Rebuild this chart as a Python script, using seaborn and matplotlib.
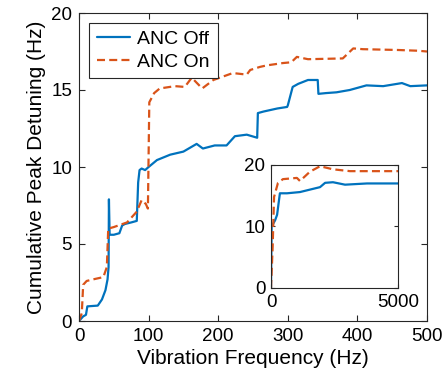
import matplotlib
matplotlib.use("Agg")
import matplotlib.pyplot as plt
import seaborn as sns

# ANC Off (blue) - main axes
off_freq = [0, 6, 10, 12, 27, 33, 38, 41, 42.5, 43, 44, 50, 58, 62, 66, 75, 83, 85, 87, 90, 95, 100,
            112, 131, 150, 169, 178, 195, 212, 224, 241, 256, 257, 265, 285, 299, 300, 307, 315,
            329, 343, 344, 355, 370, 389, 413, 437, 464, 476, 500]
off_val = [0, 0.3, 0.4, 0.95, 1.0, 1.4, 2.0, 2.7, 3.5, 7.9, 5.6, 5.6, 5.7, 6.2, 6.3, 6.4, 6.5, 9.0, 9.8,
           9.9, 9.8, 10.0, 10.45, 10.8, 11.0, 11.5, 11.2, 11.4, 11.4, 12.0, 12.1, 11.9, 13.5, 13.6,
           13.8, 13.9, 14.0, 15.2, 15.4, 15.65, 15.65, 14.75, 14.8, 14.85, 15.0, 15.3, 15.25, 15.45,
           15.25, 15.3]

# ANC On (orange, dashed) - main axes
on_freq = [0, 4, 6, 11, 20, 35, 40, 42, 50, 69, 83, 90, 96, 99, 101, 108, 116, 138, 152, 162, 177,
           193, 221, 241, 246, 260, 270, 293, 305, 313, 329, 379, 394, 408, 457, 487, 500]
on_val = [0, 0.5, 2.35, 2.6, 2.7, 2.85, 3.5, 6.0, 6.1, 6.4, 7.1, 7.85, 7.6, 7.3, 14.2, 14.8, 15.1,
          15.25, 15.2, 15.8, 15.1, 15.65, 16.1, 16.0, 16.3, 16.5, 16.6, 16.75, 16.8, 17.15, 17.0,
          17.05, 17.7, 17.65, 17.6, 17.55, 17.5]

# inset, 0-5000 Hz
in_off_freq = [0, 25, 160, 240, 350, 630, 1140, 1930, 2130, 2440, 2915, 3780, 5000]
in_off_val = [0, 10, 11, 11.9, 15.4, 15.4, 15.6, 16.4, 17.1, 17.2, 16.8, 17.0, 17.0]
in_on_freq = [0, 65, 120, 275, 470, 1020, 1140, 1530, 1930, 2440, 3110, 5000]
in_on_val = [0, 6.7, 14.8, 17.1, 17.7, 17.9, 17.4, 18.9, 19.8, 19.3, 19.0, 19.0]

blue = "#0072BD"
orange = "#D95319"
dash = (0, (3.6, 1.9))

sns.set_style("ticks")
plt.rcParams['font.family'] = ['Liberation Sans', 'DejaVu Sans']
plt.rcParams['text.color'] = 'black'
plt.rcParams['axes.labelcolor'] = 'black'
plt.rcParams['xtick.color'] = 'black'
plt.rcParams['ytick.color'] = 'black'

fig = plt.figure(figsize=(4.48, 3.75), dpi=100)
ax = fig.add_axes([79/448, 54/375, 348/448, 308/375])

sns.lineplot(x=off_freq, y=off_val, ax=ax, color=blue, lw=1.6, sort=False, estimator=None,
             label="ANC Off")
sns.lineplot(x=on_freq, y=on_val, ax=ax, color=orange, lw=1.6, sort=False, estimator=None,
             linestyle=dash, label="ANC On")

ax.set_xlim(0, 500)
ax.set_ylim(0, 20)
ax.set_xticks(range(0, 501, 100))
ax.set_yticks(range(0, 21, 5))
ax.set_xlabel("Vibration Frequency (Hz)", fontsize=15, labelpad=3)
ax.set_ylabel("Cumulative Peak Detuning (Hz)", fontsize=15, labelpad=4)
ax.tick_params(direction="in", top=True, right=True, labelsize=13.5, length=4, pad=5,
               color="#262626")
for s in ax.spines.values():
    s.set_linewidth(0.8)
    s.set_color("#262626")

leg = ax.legend(loc="upper left", fontsize=14, frameon=True, fancybox=False,
                borderpad=0.4, handlelength=1.7, handletextpad=0.4, labelspacing=0.25,
                borderaxespad=0.5)
leg.get_frame().set_edgecolor("#262626")
leg.get_frame().set_linewidth(0.8)
leg.get_frame().set_alpha(1)

# inset
ax_in = fig.add_axes([271/448, 87/375, 127/448, 123/375])
sns.lineplot(x=in_off_freq, y=in_off_val, ax=ax_in, color=blue, lw=1.6, sort=False, estimator=None)
sns.lineplot(x=in_on_freq, y=in_on_val, ax=ax_in, color=orange, lw=1.6, sort=False, estimator=None,
             linestyle=dash)
ax_in.set_xlim(0, 5000)
ax_in.set_ylim(0, 20)
ax_in.set_xticks([0, 5000])
ax_in.set_yticks([0, 10, 20])
ax_in.tick_params(direction="in", top=True, right=True, labelsize=13.5, length=3, pad=4,
                  color="#262626")
for s in ax_in.spines.values():
    s.set_linewidth(0.8)
    s.set_color("#262626")

fig.savefig("out.png", dpi=100)
